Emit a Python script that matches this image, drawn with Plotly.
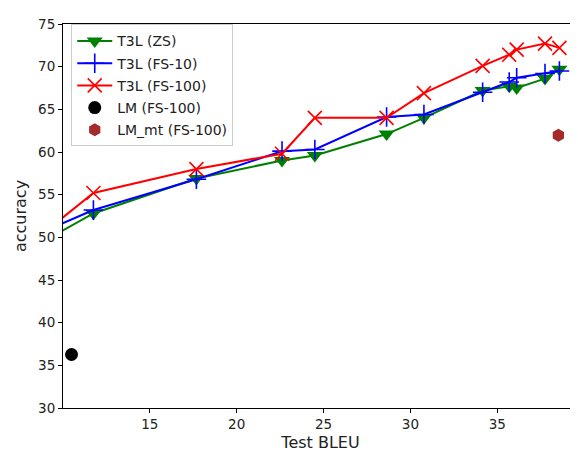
import plotly.graph_objects as go

# Test BLEU (x) and accuracy (y) values
bleu = [9.0, 11.75, 17.68, 22.61, 24.5, 28.63, 30.78, 34.16, 35.69, 36.12, 37.75, 38.58]
acc_zs = [49.7, 52.8, 56.9, 59.0, 59.6, 62.1, 64.0, 67.2, 67.7, 67.5, 68.6, 69.7]
acc_fs10 = [50.8, 53.2, 56.8, 60.1, 60.3, 64.1, 64.4, 67.0, 68.2, 68.7, 69.2, 69.5]
acc_fs100 = [50.7, 55.2, 58.0, 59.8, 64.0, 64.0, 66.9, 70.1, 71.4, 72.0, 72.7, 72.2]

lm_x = [10.49]
lm_y = [36.27]
lmmt_x = [38.52]
lmmt_y = [61.95]

names = ["T3L (ZS)", "T3L (FS-10)", "T3L (FS-100)", "LM (FS-100)", "LM_mt (FS-100)"]

x_ticks = [15, 20, 25, 30, 35]
y_ticks = [30, 35, 40, 45, 50, 55, 60, 65, 70, 75]

fig = go.Figure()
fig.add_trace(go.Scatter(
    x=bleu, y=acc_zs, name=names[0], mode="lines+markers", legendgroup="a",
    line=dict(color="#008000", width=2),
    marker=dict(symbol="triangle-down", size=14, color="#008000")))
fig.add_trace(go.Scatter(
    x=bleu, y=acc_fs10, name=names[1], mode="lines+markers", legendgroup="b",
    line=dict(color="#0000FF", width=2),
    marker=dict(symbol="cross-thin", size=14, color="#0000FF",
                line=dict(color="#0000FF", width=1.6))))
fig.add_trace(go.Scatter(
    x=bleu, y=acc_fs100, name=names[2], mode="lines+markers", legendgroup="c",
    line=dict(color="#FF0000", width=2),
    marker=dict(symbol="x-thin", size=14, color="#FF0000",
                line=dict(color="#FF0000", width=1.6))))
fig.add_trace(go.Scatter(
    x=lm_x, y=lm_y, name=names[3], mode="markers", legendgroup="d",
    marker=dict(symbol="circle", size=13, color="black")))
fig.add_trace(go.Scatter(
    x=lmmt_x, y=lmmt_y, name=names[4], mode="markers", legendgroup="e",
    marker=dict(symbol="hexagon", size=13, color="#A52A2A")))

font_family = "DejaVu Sans"
fig.update_layout(
    width=578, height=454,
    margin=dict(l=55, r=8, t=10, b=54),
    paper_bgcolor="white", plot_bgcolor="white",
    font=dict(family=font_family, size=13, color="#222222"),
    showlegend=True,
    legend=dict(
        x=0.016, y=0.999, xanchor="left", yanchor="top",
        bgcolor="rgba(255,255,255,0.8)", bordercolor="#cccccc", borderwidth=1,
        font=dict(family=font_family, size=14, color="#222222"),
        traceorder="grouped", tracegroupgap=1, itemwidth=35,
    ),
    xaxis=dict(
        range=[10, 39.65], tickvals=x_ticks, ticktext=[str(v) for v in x_ticks],
        showgrid=False, zeroline=False,
        showline=True, mirror=True, linecolor="black", linewidth=1,
        ticks="outside", ticklen=4, tickcolor="black",
        tickfont=dict(size=13.5),
        title=dict(text="Test BLEU", font=dict(size=16), standoff=5),
    ),
    yaxis=dict(
        range=[30, 75], tickvals=y_ticks, ticktext=[str(v) for v in y_ticks],
        showgrid=False, zeroline=False,
        showline=True, mirror=False, linecolor="black", linewidth=1,
        ticks="outside", ticklen=4, tickcolor="black",
        tickfont=dict(size=13.5),
        title=dict(text="accuracy", font=dict(size=16), standoff=7),
    ),
)

fig.write_html("out.html")
